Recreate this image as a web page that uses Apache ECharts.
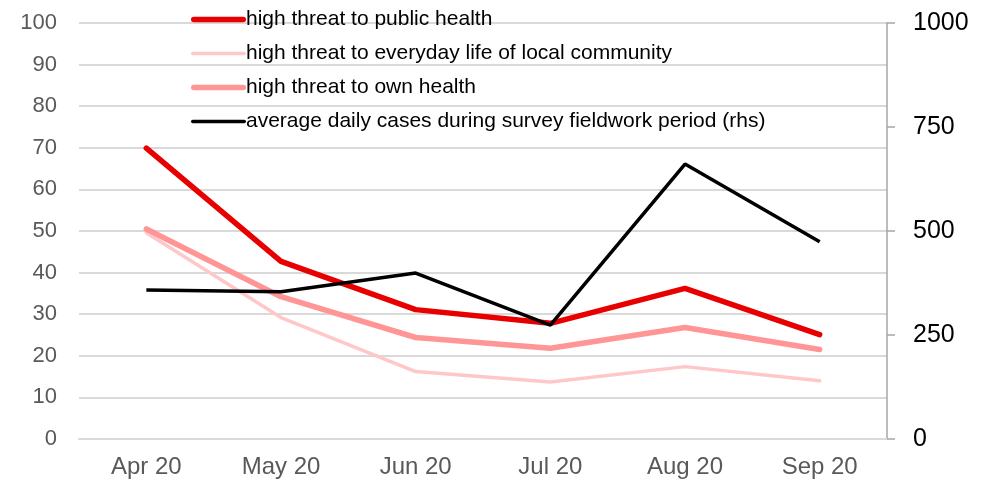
<!DOCTYPE html>
<html>
<head>
<meta charset="utf-8">
<script src="https://cdn.jsdelivr.net/npm/echarts@6/dist/echarts.min.js"></script>
<style>
  html, body { margin: 0; padding: 0; background: #fff; }
  #chart { width: 986px; height: 480px; }
</style>
</head>
<body>
<div id="chart"></div>
<script>
// Survey months
const months = ['Apr 20', 'May 20', 'Jun 20', 'Jul 20', 'Aug 20', 'Sep 20'];

// Share of respondents (%) seeing a high threat
const publicHealth = [69.9, 42.7, 31.1, 27.8, 36.2, 25.1];
const everydayLife = [49.6, 29.2, 16.2, 13.7, 17.4, 14.0];
const ownHealth = [50.5, 34.2, 24.4, 21.8, 26.8, 21.5];

// Average daily cases during fieldwork (right-hand scale)
const dailyCases = [358, 354, 399, 274, 661, 474];

// Axis ticks
const leftTicks = [0, 10, 20, 30, 40, 50, 60, 70, 80, 90, 100];
const rightTicks = [0, 250, 500, 750, 1000];

// Series names shown in the legend
const names = [
  'high threat to public health',
  'high threat to everyday life of local community',
  'high threat to own health',
  'average daily cases during survey fieldwork period (rhs)'
];

const FONT = '"Liberation Sans", Arial, sans-serif';

// Legend swatch: a horizontal bar of given thickness centred in a 55x14 box
function barIcon(h) {
  const y0 = (14 - h) / 2, y1 = y0 + h, r = h / 2;
  return 'path://M0,0L0,0M55,14L55,14' +
    'M' + r + ',' + y0 + 'L' + (55 - r) + ',' + y0 +
    'A' + r + ',' + r + ',0,0,1,' + (55 - r) + ',' + y1 +
    'L' + r + ',' + y1 + 'A' + r + ',' + r + ',0,0,1,' + r + ',' + y0 + 'Z';
}

const chart = echarts.init(document.getElementById('chart'), null, { renderer: 'canvas' });

chart.setOption({
  animation: false,
  backgroundColor: '#ffffff',
  textStyle: { fontFamily: FONT },
  grid: { left: 79, right: 99, top: 23, bottom: 41 },
  legend: {
    orient: 'vertical',
    left: 186,
    top: 4,
    itemWidth: 55,
    itemHeight: 14,
    itemGap: 13,
    textStyle: { fontFamily: FONT, fontSize: 21, color: '#000000', padding: [0, 0, 0, -5] },
    data: [
      { name: names[0], icon: barIcon(5.5) },
      { name: names[1], icon: barIcon(3.5) },
      { name: names[2], icon: barIcon(5.5) },
      { name: names[3], icon: barIcon(3.5) }
    ]
  },
  xAxis: {
    type: 'category',
    data: months,
    boundaryGap: true,
    axisLine: { show: true, lineStyle: { color: '#d9d9d9', width: 2 } },
    axisTick: { show: false },
    axisLabel: { color: '#595959', fontSize: 24, fontFamily: FONT, margin: 16 }
  },
  yAxis: [
    {
      type: 'value',
      min: leftTicks[0],
      max: leftTicks[leftTicks.length - 1],
      interval: leftTicks[1] - leftTicks[0],
      axisLine: { show: false },
      axisTick: { show: false },
      splitLine: { lineStyle: { color: '#d9d9d9', width: 2 } },
      axisLabel: { color: '#595959', fontSize: 22, fontFamily: FONT, margin: 22 }
    },
    {
      type: 'value',
      position: 'right',
      min: rightTicks[0],
      max: rightTicks[rightTicks.length - 1],
      interval: rightTicks[1] - rightTicks[0],
      axisLine: { show: true, lineStyle: { color: '#a6a6a6', width: 1.5 } },
      axisTick: { show: true, inside: false, length: 8, lineStyle: { color: '#a6a6a6', width: 1.5 } },
      splitLine: { show: false },
      axisLabel: {
        color: '#000000', fontSize: 25, fontFamily: FONT, margin: 26,
        formatter: function (v) { return String(v); }
      }
    }
  ],
  series: [
    {
      name: names[0],
      type: 'line',
      data: publicHealth,
      symbol: 'none',
      color: '#e80000',
      lineStyle: { color: '#e80000', width: 5.5, cap: 'round', join: 'round' },
      z: 5
    },
    {
      name: names[1],
      type: 'line',
      data: everydayLife,
      symbol: 'none',
      color: '#ffc7c7',
      lineStyle: { color: '#ffc7c7', width: 3.5, cap: 'round' },
      z: 3
    },
    {
      name: names[2],
      type: 'line',
      data: ownHealth,
      symbol: 'none',
      color: '#ff9595',
      lineStyle: { color: '#ff9595', width: 5.5, cap: 'round' },
      z: 4
    },
    {
      name: names[3],
      type: 'line',
      yAxisIndex: 1,
      data: dailyCases,
      symbol: 'none',
      color: '#000000',
      lineStyle: { color: '#000000', width: 3.5 },
      z: 6
    }
  ]
});
</script>
</body>
</html>
